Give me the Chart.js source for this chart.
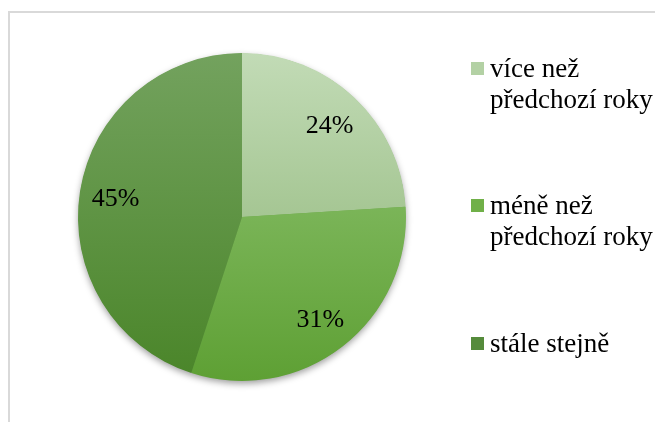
<!DOCTYPE html>
<html>
<head>
<meta charset="utf-8">
<script src="https://cdn.jsdelivr.net/npm/chart.js@4/dist/chart.umd.min.js"></script>
<style>
  body { margin: 0; background: #fff; }
  #wrap { position: relative; width: 655px; height: 422px; overflow: hidden; }
  #frame { position: absolute; left: 8px; top: 11px; width: 700px; height: 500px; border: 2px solid #d9d9d9; }
  canvas { position: absolute; left: 0; top: 0; }
  #legend { position: absolute; left: 471px; top: 0; font-family: "Liberation Serif", "Times New Roman", serif; font-size: 27px; color: #000; }
  .item { position: absolute; left: 0; width: 190px; line-height: 31px; }
  .box { position: absolute; left: 0; top: 9px; width: 13px; height: 13px; }
  .txt { position: absolute; left: 19px; top: 0; white-space: nowrap; }
</style>
</head>
<body>
<div id="wrap">
  <div id="frame"></div>
  <canvas id="pie" width="655" height="422"></canvas>
  <div id="legend"></div>
</div>
<script>
const labels = [['více než', 'předchozí roky'], ['méně než', 'předchozí roky'], ['stále stejně']];
const values = [24, 31, 45];
const topColors = ['#c2dbb6', '#94c778', '#73a25e'];
const bottomColors = ['#88b170', '#5ea034', '#4a8529'];
const legendColors = ['#b3d1a4', '#70b048', '#558b3b'];
const legendTops = [53, 190, 328];

function sliceFill(context) {
    const i = context.dataIndex;
    const area = context.chart.chartArea;
    if (!area) return topColors[i];
    const g = context.chart.ctx.createLinearGradient(0, area.top, 0, area.bottom);
    g.addColorStop(0, topColors[i]);
    g.addColorStop(1, bottomColors[i]);
    return g;
}

// soft shadow under the whole pie
const shadowPlugin = {
    id: 'shadow',
    beforeDatasetsDraw(chart) {
        const arc = chart.getDatasetMeta(0).data[0];
        if (!arc) return;
        const ctx = chart.ctx;
        ctx.save();
        ctx.shadowColor = 'rgba(0,0,0,0.4)';
        ctx.shadowBlur = 7;
        ctx.shadowOffsetY = 3;
        ctx.fillStyle = '#6aa548';
        ctx.beginPath();
        ctx.arc(arc.x, arc.y, arc.outerRadius - 0.5, 0, Math.PI * 2);
        ctx.fill();
        ctx.restore();
    }
};

// percent labels inside slices
const valueLabels = {
    id: 'valueLabels',
    afterDatasetsDraw(chart) {
        const ctx = chart.ctx;
        const meta = chart.getDatasetMeta(0);
        const total = values.reduce((a, b) => a + b, 0);
        ctx.save();
        ctx.font = '26px "Liberation Serif", "Times New Roman", serif';
        ctx.fillStyle = '#000';
        ctx.textAlign = 'center';
        ctx.textBaseline = 'middle';
        meta.data.forEach(function(arc, i) {
            const mid = (arc.startAngle + arc.endAngle) / 2;
            const r = arc.outerRadius * 0.78;
            const x = arc.x + Math.cos(mid) * r;
            const y = arc.y + Math.sin(mid) * r + 2;
            ctx.fillText(Math.round(values[i] / total * 100) + '%', x, y);
        });
        ctx.restore();
    }
};

new Chart(document.getElementById('pie').getContext('2d'), {
    type: 'pie',
    data: {
        labels: labels,
        datasets: [{
            data: values,
            backgroundColor: sliceFill,
            borderWidth: 0
        }]
    },
    options: {
        responsive: false,
        animation: false,
        layout: { padding: { left: 78, right: 249, top: 53, bottom: 41 } },
        plugins: {
            legend: { display: false },
            tooltip: { enabled: false }
        }
    },
    plugins: [shadowPlugin, valueLabels]
});

const legend = document.getElementById('legend');
labels.forEach(function(lines, i) {
    const item = document.createElement('div');
    item.className = 'item';
    item.style.top = legendTops[i] + 'px';
    const box = document.createElement('div');
    box.className = 'box';
    box.style.background = legendColors[i];
    const txt = document.createElement('div');
    txt.className = 'txt';
    txt.innerHTML = lines.join('<br>');
    item.appendChild(box);
    item.appendChild(txt);
    legend.appendChild(item);
});
</script>
</body>
</html>
